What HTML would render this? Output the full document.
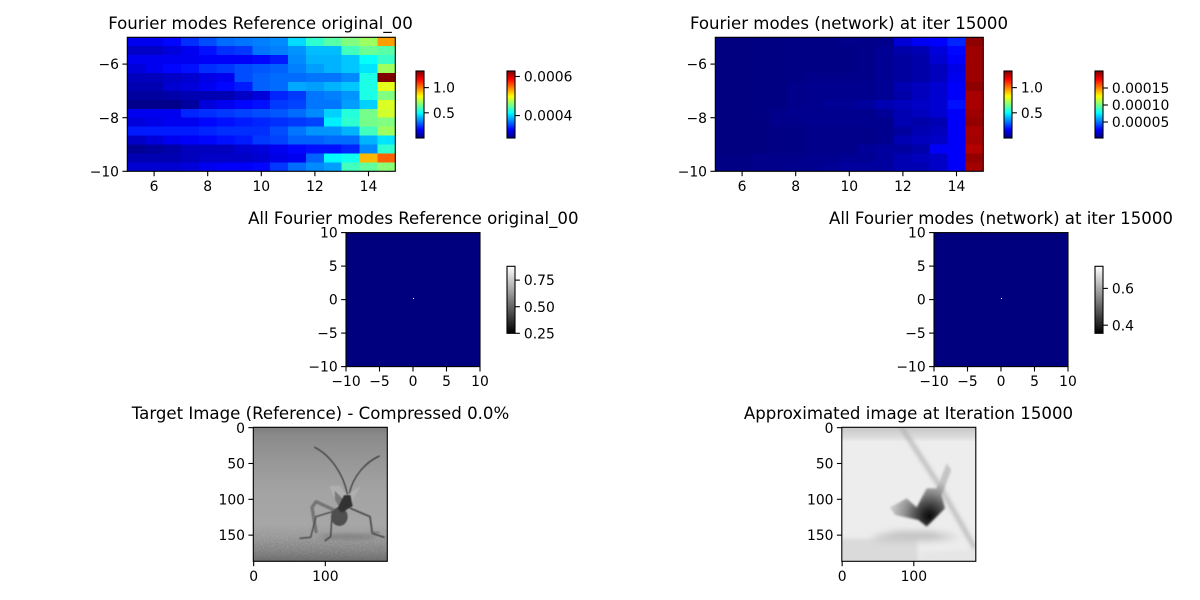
<!DOCTYPE html>
<html>
<head>
<meta charset="utf-8">
<title>Fourier modes comparison</title>
<style>
html,body{margin:0;padding:0;background:#fff;width:1200px;height:600px;overflow:hidden}
svg{display:block}
text{font-family:"DejaVu Sans","Liberation Sans",sans-serif;fill:#000}
</style>
</head>
<body>
<svg id="fig" xmlns="http://www.w3.org/2000/svg" width="1200" height="600" viewBox="0 0 1200 600">
<defs>
<linearGradient id="jetGrad" x1="0" y1="1" x2="0" y2="0">
<stop offset="0" stop-color="#00007f"/><stop offset=".125" stop-color="#0000ff"/><stop offset=".375" stop-color="#00ffff"/><stop offset=".625" stop-color="#ffff00"/><stop offset=".875" stop-color="#ff0000"/><stop offset="1" stop-color="#7f0000"/>
</linearGradient>
<linearGradient id="grayGrad" x1="0" y1="1" x2="0" y2="0">
<stop offset="0" stop-color="#000"/><stop offset="1" stop-color="#fff"/>
</linearGradient>
<linearGradient id="photoBg" x1="0" y1="0" x2="0" y2="1">
<stop offset="0" stop-color="#7e7e7e"/><stop offset=".06" stop-color="#8a8a8a"/><stop offset=".25" stop-color="#979797"/><stop offset=".5" stop-color="#a4a4a4"/><stop offset=".72" stop-color="#a6a6a6"/><stop offset=".82" stop-color="#989898"/><stop offset=".92" stop-color="#828282"/><stop offset="1" stop-color="#6c6c6c"/>
</linearGradient>
<linearGradient id="groundFade" x1="0" y1="0" x2="0" y2="1">
<stop offset="0" stop-color="#000"/><stop offset=".5" stop-color="#fff"/><stop offset=".8" stop-color="#fff"/><stop offset="1" stop-color="#444"/>
</linearGradient>
<mask id="groundMask" maskUnits="userSpaceOnUse" x="40" y="290" width="402" height="134"><rect x="40" y="290" width="402" height="134" fill="url(#groundFade)"/></mask>
<linearGradient id="approxTop" x1="0" y1="0" x2="0" y2="1">
<stop offset="0" stop-color="#c8c8c8"/><stop offset=".7" stop-color="#dcdcdc"/><stop offset="1" stop-color="#eaeaea"/>
</linearGradient>
<radialGradient id="blobGrad" gradientUnits="userSpaceOnUse" cx="298" cy="288" r="110">
<stop offset="0" stop-color="#0a0a0a"/><stop offset=".2" stop-color="#2a2a2a"/><stop offset=".42" stop-color="#585858"/><stop offset=".65" stop-color="#8c8c8c"/><stop offset="1" stop-color="#c4c4c4"/>
</radialGradient>
<filter id="blur1" x="-10%" y="-10%" width="120%" height="120%"><feGaussianBlur stdDeviation="1.5"/></filter>
<filter id="blurBlob" x="-20%" y="-20%" width="140%" height="140%"><feGaussianBlur stdDeviation="3.5"/></filter>
<filter id="blur2" x="-30%" y="-30%" width="160%" height="160%"><feGaussianBlur stdDeviation="6"/></filter>
<filter id="blur3" x="-30%" y="-100%" width="160%" height="300%"><feGaussianBlur stdDeviation="11"/></filter>
<filter id="speckle" x="0" y="0" width="100%" height="100%"><feTurbulence type="fractalNoise" baseFrequency="0.22" numOctaves="2" seed="4"/><feColorMatrix values="0 0 0 0 1 0 0 0 0 1 0 0 0 0 1 1.5 0 0 0 -0.6"/><feGaussianBlur stdDeviation="0.8"/></filter>
<clipPath id="clipPhoto"><rect x="40" y="22" width="402" height="402"/></clipPath>
<clipPath id="clipApprox"><rect x="35" y="22" width="402" height="402"/></clipPath>
</defs>

<g transform="translate(240,420) scale(0.33333)" clip-path="url(#clipPhoto)">
  <rect x="40" y="22" width="402" height="402" fill="url(#photoBg)"/>
  <g mask="url(#groundMask)"><rect x="40" y="290" width="402" height="134" filter="url(#speckle)" opacity=".22"/></g>
  <ellipse cx="325" cy="350" rx="85" ry="8" fill="#707070" opacity=".6" filter="url(#blur2)"/>
  <g fill="none" stroke-linecap="round" stroke-linejoin="round" filter="url(#blur1)">
    <path d="M224,82 C270,105 310,160 322,222" stroke="#262626" stroke-width="3"/>
    <path d="M418,108 C380,125 340,165 328,220" stroke="#262626" stroke-width="3"/>
    <path d="M278,268 L228,245 L216,262 L228,335" stroke="#757575" stroke-width="10"/>
    <path d="M300,268 L228,290 L212,352 L180,355" stroke="#484848" stroke-width="4"/>
    <path d="M276,285 L272,350 L255,362" stroke="#404040" stroke-width="4"/>
    <path d="M332,265 L390,290 L397,340 L432,352" stroke="#4a4a4a" stroke-width="5"/>
    <path d="M392,336 L418,337" stroke="#6a6a6a" stroke-width="3"/>
    <path d="M268,197 L300,198 L322,228 L340,212 L363,198 L345,225 L336,250 L300,268 L284,235 Z" fill="#b0b0b0" stroke="none"/>
    <path d="M284,212 L312,240 L300,265 L285,240 Z" fill="#7a7a7a" stroke="none"/>
    <ellipse cx="298" cy="290" rx="25" ry="28" fill="#505050" stroke="none"/>
    <path d="M312,225 L332,225 L338,258 L305,278 L292,265 Z" fill="#303030" stroke="none"/>
  </g>
</g>

<g transform="translate(830,420) scale(0.33333)" clip-path="url(#clipApprox)">
  <rect x="35" y="22" width="402" height="402" fill="#ededed"/>
  <rect x="35" y="22" width="402" height="42" fill="url(#approxTop)"/>
  <path d="M0,356 L260,356 L270,460 L0,460 Z" fill="#dadada" filter="url(#blur2)"/>
  <path d="M270,395 L480,385 L480,460 L270,460 Z" fill="#e6e6e6" filter="url(#blur2)"/>
  <path d="M120,352 L200,335 L300,335 L390,352 L300,362 L150,360 Z" fill="#bdbdbd" filter="url(#blur3)"/>
  <path d="M212,18 L330,200 L435,385" stroke="#b4b4b4" stroke-width="11" fill="none" filter="url(#blur2)"/>
  <path d="M180,262 L230,235 L260,262 L290,205 L320,205 L350,130 L364,150 L335,225 L345,265 L290,320 L265,300 L195,285 Z" fill="url(#blobGrad)" filter="url(#blurBlob)"/>
</g>
<g id="chart-root"></g>
</svg>
<script>
// ---------- Data (colour-normalised magnitudes, 0..1 of the jet range) ----------
const referenceModes = [
[.11,.11,.13,.17,.20,.23,.24,.25,.26,.34,.42,.46,.50,.53,.72],
[.07,.07,.09,.11,.14,.17,.18,.24,.25,.27,.31,.31,.44,.48,.46],
[.11,.11,.11,.11,.12,.12,.12,.13,.15,.26,.30,.30,.32,.38,.43],
[.09,.11,.13,.14,.17,.18,.20,.21,.22,.25,.28,.30,.32,.35,.53],
[.06,.06,.07,.08,.10,.11,.20,.22,.23,.23,.24,.24,.26,.40,1.0],
[.05,.05,.08,.09,.11,.13,.15,.22,.23,.29,.28,.30,.32,.40,.60],
[.03,.03,.04,.05,.05,.05,.07,.09,.16,.18,.24,.25,.27,.40,.50],
[.01,.01,.01,.03,.09,.11,.13,.14,.18,.19,.24,.24,.28,.33,.59],
[.11,.11,.11,.16,.17,.18,.19,.20,.21,.23,.26,.33,.41,.49,.58],
[.09,.10,.11,.11,.13,.14,.15,.16,.17,.18,.19,.36,.42,.49,.50],
[.15,.15,.15,.15,.16,.17,.17,.17,.20,.24,.27,.27,.30,.44,.53],
[.07,.09,.11,.12,.13,.14,.15,.18,.19,.22,.22,.23,.23,.30,.35],
[.02,.03,.04,.06,.06,.06,.08,.09,.11,.13,.14,.14,.16,.26,.42],
[.05,.05,.05,.06,.07,.07,.07,.08,.10,.11,.22,.37,.39,.695,.78],
[.08,.08,.08,.09,.11,.12,.12,.13,.18,.23,.26,.28,.44,.47,.51]
];
const networkModes = [
[.00,.00,.003,.003,.005,.005,.005,.01,.01,.012,.085,.115,.125,.16,.985],
[.00,.00,.003,.003,.005,.005,.005,.005,.01,.02,.04,.05,.09,.13,.97],
[.00,.00,.003,.003,.005,.005,.005,.005,.01,.02,.03,.04,.08,.12,.97],
[.00,.00,.003,.003,.005,.005,.005,.005,.01,.02,.03,.04,.06,.10,.97],
[.00,.00,.003,.003,.005,.01,.01,.01,.01,.02,.03,.04,.06,.11,.97],
[.00,.00,.003,.003,.01,.015,.015,.015,.015,.02,.05,.06,.08,.12,.985],
[.00,.00,.003,.003,.01,.015,.015,.015,.015,.02,.04,.06,.08,.12,.96],
[.00,.00,.003,.003,.01,.015,.02,.02,.03,.05,.06,.07,.08,.14,.96],
[.00,.00,.003,.01,.015,.015,.015,.015,.015,.025,.05,.06,.08,.12,.97],
[.00,.00,.00,.01,.01,.015,.015,.015,.015,.015,.05,.04,.05,.12,.98],
[.00,.00,.00,.005,.005,.01,.01,.01,.01,.015,.03,.05,.06,.12,.96],
[.00,.00,.00,.005,.005,.01,.01,.01,.01,.015,.05,.06,.07,.12,.965],
[.00,.00,.00,.005,.005,.01,.01,.01,.025,.03,.03,.04,.12,.12,.95],
[.005,.005,.01,.01,.01,.015,.015,.02,.02,.03,.05,.06,.07,.12,.98],
[.005,.005,.01,.01,.015,.015,.02,.03,.03,.03,.05,.05,.07,.12,.965]
];
const modeXTicks = [6, 8, 10, 12, 14];
const modeYTicks = [-6, -8, -10];
const allModeTicks = [-10, -5, 0, 5, 10];
const imageXTicks = [0, 100];
const imageYTicks = [0, 50, 100, 150];
const peakMode = [0.07, 0.15];
const cbPhase = [0.0, 1.33];
const cbPhaseTicks = [1.0, 0.5];
const cbPhaseTickLabels = ['1.0', '0.5'];
const cbRefAmp = [0.000285, 0.000628];
const cbRefAmpTicks = [0.0006, 0.0004];
const cbRefAmpTickLabels = ['0.0006', '0.0004'];
const cbNetAmp = [0.000003, 0.0002];
const cbNetAmpTicks = [0.00015, 0.0001, 0.00005];
const cbNetAmpTickLabels = ['0.00015', '0.00010', '0.00005'];
const cbRefGray = [0.25, 0.88];
const cbRefGrayTicks = [0.75, 0.5, 0.25];
const cbRefGrayTickLabels = ['0.75', '0.50', '0.25'];
const cbNetGray = [0.356, 0.72];
const cbNetGrayTicks = [0.6, 0.4];
const cbNetGrayTickLabels = ['0.6', '0.4'];

const NS = 'http://www.w3.org/2000/svg';
const root = document.getElementById('chart-root');
function mk(tag, attrs, parent) {
  const e = document.createElementNS(NS, tag);
  for (const k in attrs) e.setAttribute(k, attrs[k]);
  (parent || root).appendChild(e);
  return e;
}
function linear(d0, d1, r0, r1) {
  return v => r0 + (v - d0) / (d1 - d0) * (r1 - r0);
}
function jet(v) {
  v = Math.max(0, Math.min(1, v));
  const ch = (a) => {
    const t = 1.5 - Math.abs(4 * v - a);
    return Math.round(255 * Math.max(0, Math.min(1, t)));
  };
  return 'rgb(' + ch(3) + ',' + ch(2) + ',' + ch(1) + ')';
}
function tickLabel(s) { return String(s).replace('-', '\u2212'); }

function drawFrame(box, name) {
  const f = mk('rect', {x: box.x, y: box.y, width: box.w, height: box.h, fill: 'none', stroke: '#000', 'stroke-width': 1.1});
  
  
}
function drawXTicks(ticks, sx, bottom, name) {
  ticks.forEach(t => {
    const x = sx(t);
    const l = mk('line', {x1: x, x2: x, y1: bottom, y2: bottom + 4.9, stroke: '#000', 'stroke-width': 1.1});
    
    
    const s = mk('text', {x: x, y: bottom + 19.6, 'font-size': 13.89, 'text-anchor': 'middle'});
    
    
    s.textContent = tickLabel(t);
  });
}
function drawYTicks(ticks, sy, left, name) {
  ticks.forEach(t => {
    const y = sy(t);
    const l = mk('line', {x1: left - 4.9, x2: left, y1: y, y2: y, stroke: '#000', 'stroke-width': 1.1});
    
    
    const s = mk('text', {x: left - 8.3, y: y + 5.1, 'font-size': 13.89, 'text-anchor': 'end'});
    
    
    s.textContent = tickLabel(t);
  });
}
function drawTitle(txt, cx, y, name) {
  const s = mk('text', {x: cx, y: y, 'font-size': 16.6, 'text-anchor': 'middle'});
  
  
  s.textContent = txt;
}
function drawColorbar(x, y0, y1, domain, ticks, labels, grad, name) {
  const b = mk('rect', {x: x, y: y0, width: 8, height: y1 - y0, fill: 'url(#' + grad + ')', stroke: '#000', 'stroke-width': 1.1});
  
  
  const sy = linear(domain[0], domain[1], y1, y0);
  ticks.forEach((t, i) => {
    const y = sy(t);
    const l = mk('line', {x1: x + 8, x2: x + 12.9, y1: y, y2: y, stroke: '#000', 'stroke-width': 1.1});
    
    
    const s = mk('text', {x: x + 16.9, y: y + 5.1, 'font-size': 13.89});
    
    
    s.textContent = labels[i];
  });
}
function drawHeatmap(values, left, name) {
  const box = {x: left, y: 37.3, w: 268, h: 134};
  const sx = linear(5, 15, box.x, box.x + box.w);
  const sy = linear(-5, -10, box.y, box.y + box.h);
  const nRows = values.length;
  values.forEach((row, r) => {
    const nCols = row.length;
    row.forEach((v, c) => {
      const x0 = sx(5 + c * 10 / nCols), x1 = sx(5 + (c + 1) * 10 / nCols);
      const y0 = sy(-5 - r * 5 / nRows), y1 = sy(-5 - (r + 1) * 5 / nRows);
      const cell = mk('rect', {x: x0, y: y0, width: x1 - x0, height: y1 - y0, fill: jet(v), 'shape-rendering': 'crispEdges'});
      
      
    });
  });
  drawFrame(box, name);
  drawXTicks(modeXTicks, sx, box.y + box.h, name);
  drawYTicks(modeYTicks, sy, box.x, name);
}
function drawAllModes(left, name) {
  const box = {x: left, y: 232.6, w: 134, h: 134};
  const sx = linear(-10, 10, box.x, box.x + box.w);
  const sy = linear(10, -10, box.y, box.y + box.h);
  const bg = mk('rect', {x: box.x, y: box.y, width: box.w, height: box.h, fill: '#00007f'});
  
  
  const p = mk('rect', {x: Math.floor(sx(peakMode[0])), y: Math.floor(sy(peakMode[1])), width: 1, height: 1, fill: '#fff', 'shape-rendering': 'crispEdges'});
  
  
  drawFrame(box, name);
  drawXTicks(allModeTicks, sx, box.y + box.h, name);
  drawYTicks(allModeTicks, sy, box.x, name);
}
function drawImageAxes(left, name) {
  const box = {x: left, y: 427.3, w: 134, h: 134};
  const sx = linear(-0.5, 186.5, box.x, box.x + box.w);
  const sy = linear(-0.5, 186.5, box.y, box.y + box.h);
  drawFrame(box, name);
  drawXTicks(imageXTicks, sx, box.y + box.h, name);
  drawYTicks(imageYTicks, sy, box.x, name);
}

drawHeatmap(referenceModes, 127.3, 'reference-modes');
drawHeatmap(networkModes, 715.3, 'network-modes');
drawAllModes(346, 'all-reference-modes');
drawAllModes(934, 'all-network-modes');
drawImageAxes(253.3, 'target-image');
drawImageAxes(841.8, 'approx-image');

drawTitle('Fourier modes Reference original_00', 260.5, 29, 'reference-modes-title');
drawTitle('Fourier modes (network) at iter 15000', 849, 29, 'network-modes-title');
drawTitle('All Fourier modes Reference original_00', 413.3, 224, 'all-reference-modes-title');
drawTitle('All Fourier modes (network) at iter 15000', 1001, 224, 'all-network-modes-title');
drawTitle('Target Image (Reference) - Compressed 0.0%', 320.5, 419, 'target-image-title');
drawTitle('Approximated image at Iteration 15000', 908.5, 419, 'approx-image-title');

drawColorbar(416, 71, 138, cbPhase, cbPhaseTicks, cbPhaseTickLabels, 'jetGrad', 'reference-phase-colorbar');
drawColorbar(507, 71, 138, cbRefAmp, cbRefAmpTicks, cbRefAmpTickLabels, 'jetGrad', 'reference-amplitude-colorbar');
drawColorbar(1004, 71, 138, cbPhase, cbPhaseTicks, cbPhaseTickLabels, 'jetGrad', 'network-phase-colorbar');
drawColorbar(1095, 71, 138, cbNetAmp, cbNetAmpTicks, cbNetAmpTickLabels, 'jetGrad', 'network-amplitude-colorbar');
drawColorbar(507, 266.3, 333.3, cbRefGray, cbRefGrayTicks, cbRefGrayTickLabels, 'grayGrad', 'reference-gray-colorbar');
drawColorbar(1095, 266.3, 333.3, cbNetGray, cbNetGrayTicks, cbNetGrayTickLabels, 'grayGrad', 'network-gray-colorbar');
</script>
</body>
</html>
